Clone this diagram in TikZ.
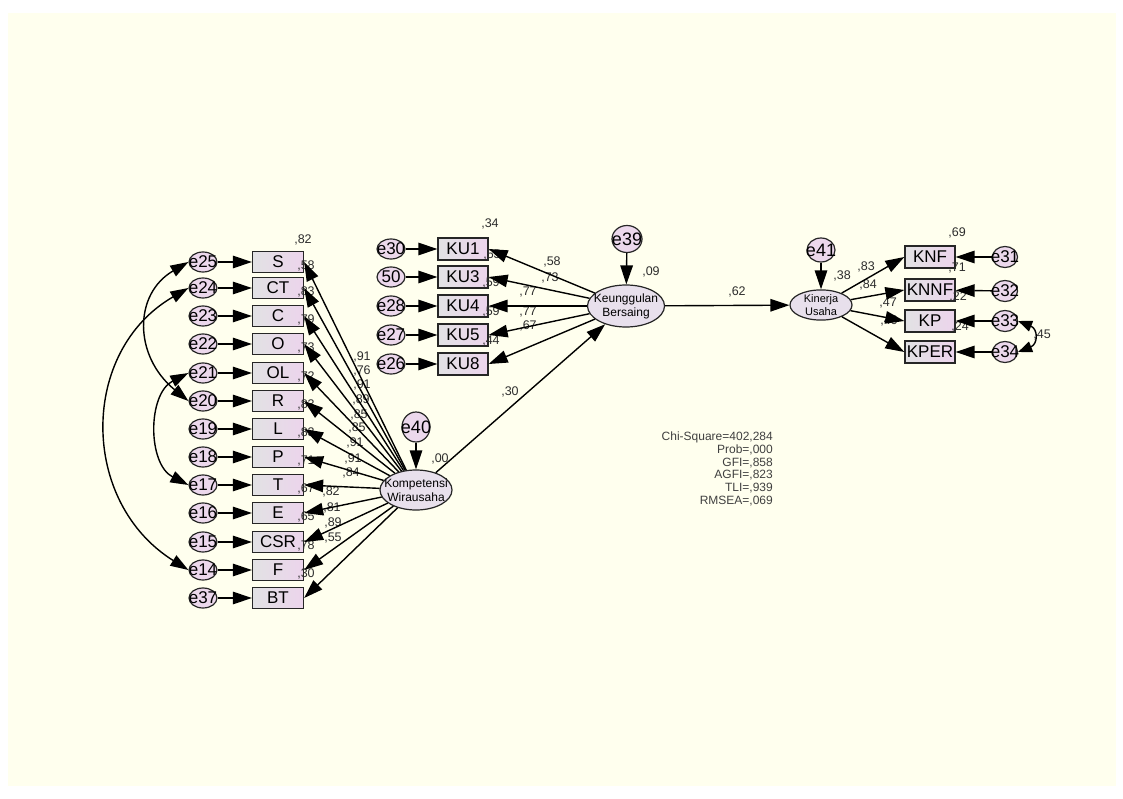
\documentclass[tikz,border=0pt]{standalone}
\usepackage{fontspec}
\setmainfont{Liberation Sans}
\usetikzlibrary{arrows.meta,shapes.geometric}
\definecolor{paper}{RGB}{255,255,238}
\definecolor{boxl}{RGB}{226,226,228}
\definecolor{boxr}{RGB}{236,212,236}
\definecolor{errfill}{RGB}{236,216,236}
\definecolor{latfill}{RGB}{232,224,236}
\definecolor{valgray}{RGB}{45,45,45}

\begin{document}
\begin{tikzpicture}[x=1pt,y=-1pt,
  obs/.style={draw=black!85,line width=1.3pt,left color=boxl,right color=boxr,minimum width=51pt,minimum height=21pt,inner sep=0pt,font=\fontsize{17}{17}\selectfont},
  err/.style={ellipse,draw=black!85,line width=1.2pt,fill=errfill,minimum width=28pt,minimum height=20pt,inner sep=0pt,font=\fontsize{17}{17}\selectfont},
  lat/.style={ellipse,draw=black!85,line width=1.2pt,fill=latfill,inner sep=0pt,font=\fontsize{12}{12}\selectfont},
  val/.style={text=valgray,inner sep=0pt,font=\fontsize{12.5}{12.5}\selectfont},
  arr/.style={-{Triangle[length=19pt,width=12.5pt]},line width=1.4pt},
  cov/.style={{Triangle[length=18pt,width=12pt]}-{Triangle[length=18pt,width=12pt]},line width=1.4pt}]

\useasboundingbox (0,0) rectangle (1123,799);
\fill[paper] (8,13) rectangle (1116,786);

\node[obs] (S)   at (278,262) {S};
\node[obs] (CT)  at (278,288) {CT};
\node[obs] (C)   at (278,316) {C};
\node[obs] (O)   at (278,344) {O};
\node[obs] (OL)  at (278,373) {OL};
\node[obs] (R)   at (278,401) {R};
\node[obs] (L)   at (278,429) {L};
\node[obs] (P)   at (278,457) {P};
\node[obs] (T)   at (278,485) {T};
\node[obs] (E)   at (278,513) {E};
\node[obs] (CSR) at (278,542) {CSR};
\node[obs] (F)   at (278,570) {F};
\node[obs] (BT)  at (278,598) {BT};

\node[err] (e25) at (203,262) {\makebox[0pt]{e25}};
\node[err] (e24) at (203,288) {\makebox[0pt]{e24}};
\node[err] (e23) at (203,316) {\makebox[0pt]{e23}};
\node[err] (e22) at (203,344) {\makebox[0pt]{e22}};
\node[err] (e21) at (203,373) {\makebox[0pt]{e21}};
\node[err] (e20) at (203,401) {\makebox[0pt]{e20}};
\node[err] (e19) at (203,429) {\makebox[0pt]{e19}};
\node[err] (e18) at (203,457) {\makebox[0pt]{e18}};
\node[err] (e17) at (203,485) {\makebox[0pt]{e17}};
\node[err] (e16) at (203,513) {\makebox[0pt]{e16}};
\node[err] (e15) at (203,542) {\makebox[0pt]{e15}};
\node[err] (e14) at (203,570) {\makebox[0pt]{e14}};
\node[err] (e37) at (203,598) {\makebox[0pt]{e37}};

\node[lat,minimum width=72pt,minimum height=40pt] (KW) at (416,490) {\makebox[0pt]{\shortstack{Kompetensi\\Wirausaha}}};
\node[err,minimum width=28pt,minimum height=30pt,font=\fontsize{18}{18}\selectfont] (e40) at (416,427) {\makebox[0pt]{e40}};

\node[obs,minimum width=50pt,minimum height=22pt] (KU1) at (463,249) {KU1};
\node[obs,minimum width=50pt,minimum height=22pt] (KU3) at (463,277) {KU3};
\node[obs,minimum width=50pt,minimum height=22pt] (KU4) at (463,306) {KU4};
\node[obs,minimum width=50pt,minimum height=22pt] (KU5) at (463,335) {KU5};
\node[obs,minimum width=50pt,minimum height=22pt] (KU8) at (463,364) {KU8};

\node[err] (e30) at (391,249) {\makebox[0pt]{e30}};
\node[err] (e50) at (391,277) {\makebox[0pt]{50}};
\node[err] (e28) at (391,306) {\makebox[0pt]{e28}};
\node[err] (e27) at (391,335) {\makebox[0pt]{e27}};
\node[err] (e26) at (391,364) {\makebox[0pt]{e26}};

\node[lat,minimum width=77pt,minimum height=42pt] (KB) at (626,306) {\makebox[0pt]{\shortstack{Keunggulan\\Bersaing}}};
\node[err,minimum width=30pt,minimum height=27pt,font=\fontsize{18}{18}\selectfont] (e39) at (627,239) {\makebox[0pt]{e39}};

\node[lat,minimum width=62pt,minimum height=30pt,font=\fontsize{11}{11}\selectfont] (KUs) at (821,305) {\makebox[0pt]{\shortstack{Kinerja\\Usaha}}};
\node[err,minimum width=28pt,minimum height=24pt,font=\fontsize{18}{18}\selectfont] (e41) at (821,250) {\makebox[0pt]{e41}};

\node[obs,minimum width=50pt,minimum height=22pt] (KNF)  at (930,257) {KNF};
\node[obs,minimum width=50pt,minimum height=22pt] (KNNF) at (930,290) {KNNF};
\node[obs,minimum width=50pt,minimum height=22pt] (KP)   at (930,321) {KP};
\node[obs,minimum width=50pt,minimum height=22pt] (KPER) at (930,352) {KPER};

\node[err,minimum width=25pt,minimum height=21pt] (e31) at (1005,257) {\makebox[0pt]{e31}};
\node[err,minimum width=25pt,minimum height=21pt] (e32) at (1005,291) {\makebox[0pt]{e32}};
\node[err,minimum width=25pt,minimum height=21pt] (e33) at (1005,321) {\makebox[0pt]{e33}};
\node[err,minimum width=25pt,minimum height=21pt] (e34) at (1005,352) {\makebox[0pt]{e34}};

\node[val] (r0)   at (303,240) {,82};
\node[val] (rS)   at (306,266) {,58};
\node[val] (rCT)  at (306,292) {,83};
\node[val] (rC)   at (306,320) {,79};
\node[val] (rO)   at (306,348) {,73};
\node[val] (rOL)  at (306,377) {,72};
\node[val] (rR)   at (306,405) {,83};
\node[val] (rL)   at (306,433) {,83};
\node[val] (rP)   at (306,461) {,71};
\node[val] (rT)   at (306,489) {,67};
\node[val] (rE)   at (306,517) {,65};
\node[val] (rCSR) at (306,546) {,78};
\node[val] (rF)   at (306,574) {,30};

\node[val] (wS)   at (362,357) {,91};
\node[val] (wCT)  at (362,371) {,76};
\node[val] (wC)   at (362,385) {,91};
\node[val] (wO)   at (361,400) {,89};
\node[val] (wOL)  at (359,415) {,85};
\node[val] (wR)   at (357,428) {,85};
\node[val] (wL)   at (355,443) {,91};
\node[val] (wP)   at (353,459) {,91};
\node[val] (wT)   at (351,473) {,84};
\node[val] (wE)   at (331,492) {,82};
\node[val] (wCSR) at (332,508) {,81};
\node[val] (wF)   at (333,523) {,89};
\node[val] (wBT)  at (333,538) {,55};

\node[val] (rKU1) at (490,224) {,34};
\node[val] (rKU3) at (492,255) {,53};
\node[val] (rKU4) at (491,283) {,59};
\node[val] (rKU5) at (491,312) {,59};
\node[val] (rKU8) at (491,341) {,44};

\node[val] (wKU1) at (552,262) {,58};
\node[val] (wKU3) at (550,278) {,73};
\node[val] (wKU4) at (528,292) {,77};
\node[val] (wKU5) at (528,312) {,77};
\node[val] (wKU8) at (528,326) {,67};

\node[val] (rKNF)  at (957,233) {,69};
\node[val] (rKNNF) at (957,268) {,71};
\node[val] (rKP)   at (958,297) {,22};
\node[val] (rKPER) at (960,327) {,24};

\node[val] (wKNF)  at (866,267) {,83};
\node[val] (wKNNF) at (868,285) {,84};
\node[val] (wKP)   at (888,303) {,47};
\node[val] (wKPER) at (889,321) {,49};

\node[val] (rKW)  at (440,459) {,00};
\node[val] (rKB)  at (651,272) {,09};
\node[val] (rKUs) at (842,276) {,38};
\node[val] (wKWB) at (510,392) {,30};
\node[val] (wKBU) at (737,292) {,62};
\node[val] (c3334) at (1042,335) {,45};

\node[val,text=black!75,align=right,anchor=east,font=\fontsize{12}{12.8}\selectfont] (fit) at (773,469)
  {Chi-Square=402,284\\Prob=,000\\GFI=,858\\AGFI=,823\\TLI=,939\\RMSEA=,069};

\draw[arr] (e25)--(S);
\draw[arr] (e24)--(CT);
\draw[arr] (e23)--(C);
\draw[arr] (e22)--(O);
\draw[arr] (e21)--(OL);
\draw[arr] (e20)--(R);
\draw[arr] (e19)--(L);
\draw[arr] (e18)--(P);
\draw[arr] (e17)--(T);
\draw[arr] (e16)--(E);
\draw[arr] (e15)--(CSR);
\draw[arr] (e14)--(F);
\draw[arr] (e37)--(BT);

\draw[arr] (KW)--(S.east);
\draw[arr] (KW)--(CT.east);
\draw[arr] (KW)--(C.east);
\draw[arr] (KW)--(O.east);
\draw[arr] (KW)--(OL.east);
\draw[arr] (KW)--(R.east);
\draw[arr] (KW)--(L.east);
\draw[arr] (KW)--(P.east);
\draw[arr] (KW)--(T.east);
\draw[arr] (KW)--(E.east);
\draw[arr] (KW)--(CSR.east);
\draw[arr] (KW)--(F.east);
\draw[arr] (KW)--(BT.east);

\draw[cov] (e25.west) .. controls +(-55,32) and +(-55,-45) .. (e20.west);
\draw[cov] (e24.west) .. controls +(-109,63) and +(-109,-68) .. (e14.west);
\draw[cov] (e21.west) .. controls +(-41,21) and +(-41,-21) .. (e17.west);

\draw[arr] (e40)--(KW);
\draw[arr] (KW)--(KB);

\draw[arr] (e30)--(KU1);
\draw[arr] (e50)--(KU3);
\draw[arr] (e28)--(KU4);
\draw[arr] (e27)--(KU5);
\draw[arr] (e26)--(KU8);

\draw[arr] (KB)--(KU1.east);
\draw[arr] (KB)--(KU3.east);
\draw[arr] (KB)--(KU4.east);
\draw[arr] (KB)--(KU5.east);
\draw[arr] (KB)--(KU8.east);

\draw[arr] (e39)--(KB);
\draw[arr] (KB)--(KUs);
\draw[arr] (e41)--(KUs);

\draw[arr] (KUs)--(KNF.west);
\draw[arr] (KUs)--(KNNF.west);
\draw[arr] (KUs)--(KP.west);
\draw[arr] (KUs)--(KPER.west);

\draw[arr] (e31)--(KNF);
\draw[arr] (e32)--(KNNF);
\draw[arr] (e33)--(KP);
\draw[arr] (e34)--(KPER);

\draw[{Triangle[length=14pt,width=11pt]}-{Triangle[length=14pt,width=11pt]},line width=1.4pt] (e33.east) .. controls +(20,8) and +(20,-8) .. (e34.east);

\end{tikzpicture}
\end{document}
